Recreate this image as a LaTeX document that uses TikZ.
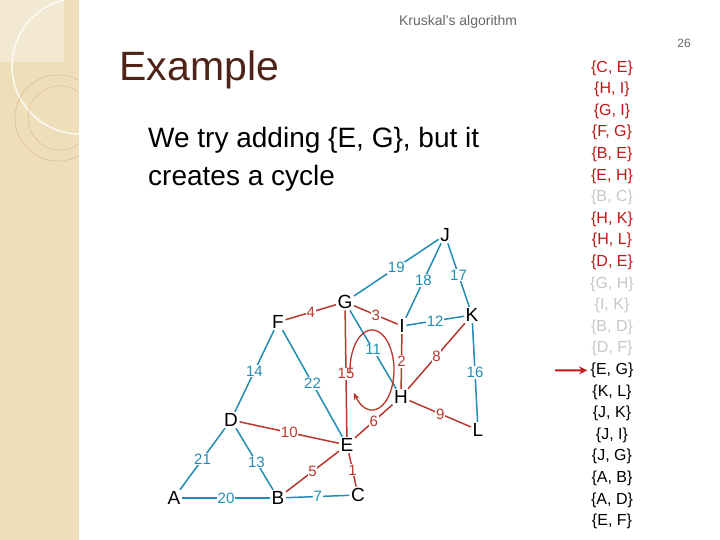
\documentclass[tikz,border=0pt]{standalone}
\usepackage{fontspec}
\setmainfont{Liberation Sans}
\usetikzlibrary{arrows.meta}
\definecolor{eblue}{RGB}{35,140,180}
\definecolor{ered}{RGB}{185,55,45}
\definecolor{lred}{RGB}{190,25,25}
\definecolor{lgrey}{RGB}{200,200,200}
\definecolor{side}{RGB}{238,222,186}
\definecolor{ttl}{RGB}{80,35,25}
\begin{document}
\begin{tikzpicture}[x=1pt,y=-1pt,
  vtx/.style={inner sep=1.5pt,font=\fontsize{19}{19}\selectfont},
  be/.style={draw=eblue,line width=1.5pt},
  re/.style={draw=ered,line width=1.5pt},
  bl/.style={fill=white,inner sep=0.8pt,text=eblue,font=\fontsize{15}{15}\selectfont},
  rl/.style={fill=white,inner sep=0.8pt,text=ered,font=\fontsize{15}{15}\selectfont},
  li/.style={font=\fontsize{16}{16}\selectfont}]
\useasboundingbox (0,0) rectangle (720,540);
\fill[white] (0,0) rectangle (720,540);
\fill[side] (0,0) rectangle (79,540);
\begin{scope}
\clip (0,0) rectangle (79,540);
\fill[white,opacity=0.35] (0,0) rectangle (64,62);
\draw[white!85!side,line width=1.5pt] (80,66) circle (68);
\draw[brown!50!side,line width=0.3pt] (58,118) circle (43);
\draw[brown!50!side,line width=0.3pt] (60,118) circle (32);
\end{scope}
\node[text=gray!80!black,font=\fontsize{14}{14}\selectfont] (hdr) at (458,22) {Kruskal's algorithm};
\node[text=gray!80!black,font=\fontsize{12}{12}\selectfont] (pg) at (684,43) {26};
\node[text=ttl,anchor=west,font=\fontsize{41}{41}\selectfont] (title) at (116,70) {Example};
\node[anchor=north west,align=left,font=\fontsize{28}{38}\selectfont,inner sep=0pt] (body) at (148,127) {We try adding \{E, G\}, but it\\creates a cycle};
% vertices
\node[vtx] (J) at (445,235) {J};
\node[vtx] (G) at (345,302) {G};
\node[vtx] (F) at (278,322) {F};
\node[vtx] (I) at (402,326) {I};
\node[vtx] (K) at (472,315) {K};
\node[vtx] (H) at (401,397) {H};
\node[vtx] (L) at (478,430) {L};
\node[vtx] (D) at (231,420) {D};
\node[vtx] (E) at (347,445) {E};
\node[vtx] (A) at (174,498) {A};
\node[vtx] (B) at (278,498) {B};
\node[vtx] (C) at (358,495) {C};
% blue edges
\path[be] (J) -- node[bl] {19} (G);
\path[be] (J) -- node[bl] {18} (I);
\path[be] (J) -- node[bl] {17} (K);
\path[be] (I) -- node[bl] {12} (K);
\path[be] (G) -- node[bl] {11} (H);
\path[be] (K) -- node[bl] {16} (L);
\path[be] (F) -- node[bl] {14} (D);
\path[be] (F) -- node[bl] {22} (E);
\path[be] (D) -- node[bl] {21} (A);
\path[be] (D) -- node[bl,pos=0.55] {13} (B);
\path[be] (A) -- node[bl] {20} (B);
\path[be] (B) -- node[bl] {7} (C);
% red edges
\path[re] (F) -- node[rl] {4} (G);
\path[re] (G) -- node[rl] {3} (I);
\path[re] (G) -- node[rl] {15} (E);
\path[re] (I) -- node[rl] {2} (H);
\path[re] (H) -- node[rl] {8} (K);
\path[re] (H) -- node[rl] {9} (L);
\path[re] (E) -- node[rl] {6} (H);
\path[re] (D) -- node[rl] {10} (E);
\path[re] (B) -- node[rl] {5} (E);
\path[re] (E) -- node[rl] {1} (C);
% cycle
\draw[ered,line width=1.3pt,-{Stealth[length=7pt,width=6pt]}] plot[domain=175:505,samples=80,smooth] ({372+22*cos(\x)},{370+40*sin(\x)});
% list
\foreach \t [count=\i from 0] in {{C, E},{H, I},{G, I},{F, G},{B, E},{E, H}}
  \node[li,text=lred] (r\i) at (612,{68+21.6*\i}) {\{\t\}};
\node[li,text=lgrey] (g6) at (612,{68+21.6*6}) {\{B, C\}};
\foreach \t [count=\i from 7] in {{H, K},{H, L},{D, E}}
  \node[li,text=lred] (r\i) at (612,{68+21.6*\i}) {\{\t\}};
\foreach \t [count=\i from 10] in {{G, H},{I, K},{B, D},{D, F}}
  \node[li,text=lgrey] (g\i) at (612,{68+21.6*\i}) {\{\t\}};
\foreach \t [count=\i from 14] in {{E, G},{K, L},{J, K},{J, I},{J, G},{A, B},{A, D},{E, F}}
  \node[li] (k\i) at (612,{68+21.6*\i}) {\{\t\}};
\coordinate (arr) at (555,370.4);
\draw[lred,line width=2pt,-{Stealth[length=8pt,width=8pt]}] (arr) -- (k14.west);
\end{tikzpicture}
\end{document}
